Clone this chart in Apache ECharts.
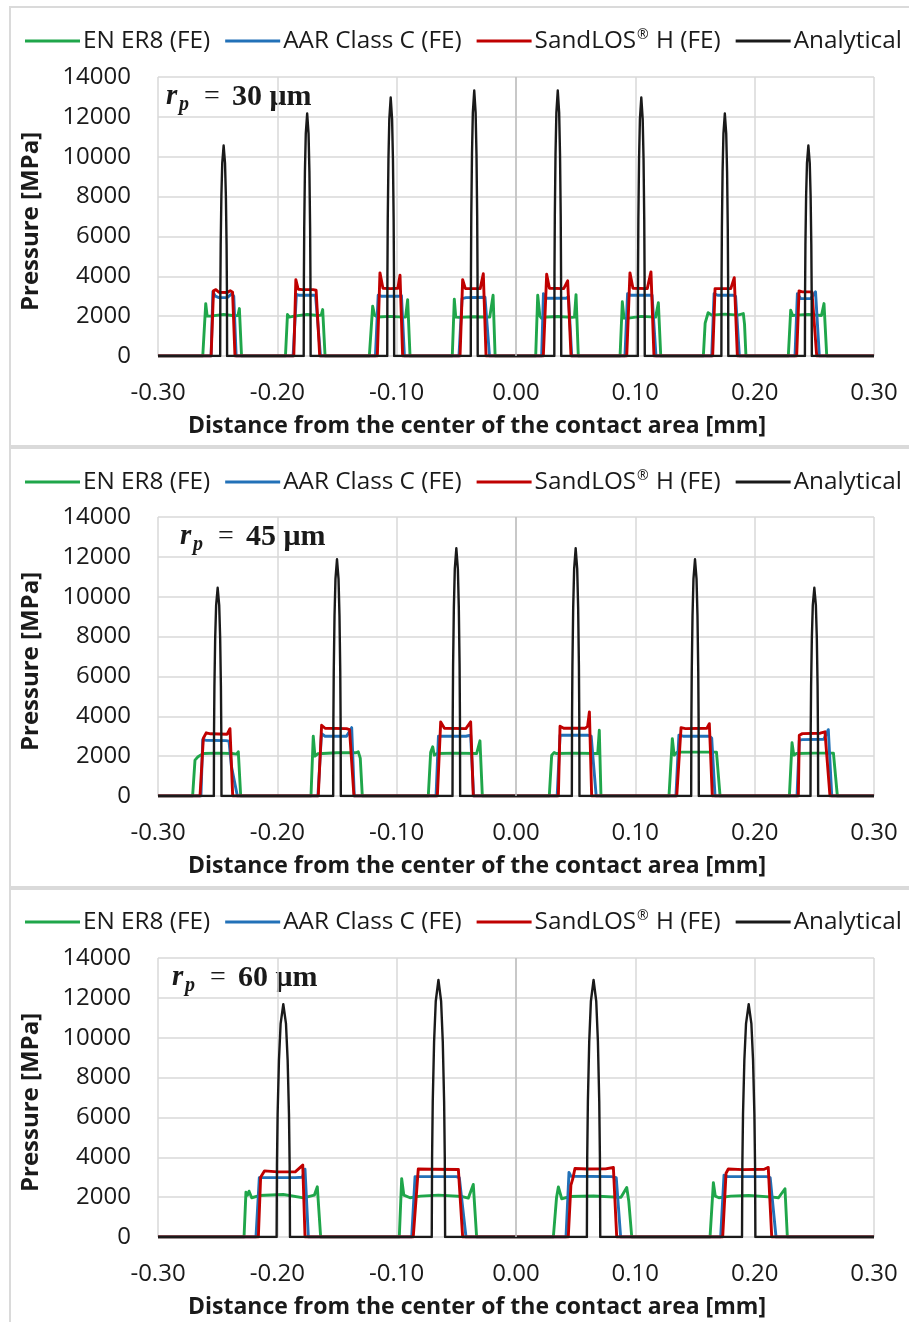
<!DOCTYPE html>
<html>
<head>
<meta charset="utf-8">
<title>Contact pressure distribution</title>
<script src="https://cdn.jsdelivr.net/npm/echarts@6/dist/echarts.min.js"></script>
<style>
  html, body { margin: 0; padding: 0; background: #ffffff; }
  #chart { width: 909px; height: 1322px; }
</style>
</head>
<body>
<div id="chart"></div>
<script>
// Series names and colours
const seriesNames = ['EN ER8 (FE)', 'AAR Class C (FE)', 'SandLOS® H (FE)', 'Analytical'];
const seriesColors = ['#1fa64a', '#2271b8', '#c00000', '#1a1a1a'];

// Axis ranges / ticks
const xRange = [-0.30, 0.30];
const xStep = 0.10;
const yRange = [0, 14000];
const yStep = 2000;
const xTitle = 'Distance from the center of the contact area [mm]';
const yTitle = 'Pressure [MPa]';
const particleRadii = ['30', '45', '60'];

// ---------- r_p = 30 µm ----------
const rp30Green = [
  [-0.30, 0],
  [-0.2625, 0], [-0.2600, 2630], [-0.2588, 2000], [-0.2560, 2000], [-0.2450, 2080], [-0.2360, 2020], [-0.2330, 2030], [-0.2318, 2380], [-0.2300, 0],
  [-0.1932, 0], [-0.1915, 2080], [-0.1900, 1950], [-0.1860, 2000], [-0.1750, 2080], [-0.1660, 2030], [-0.1632, 2050], [-0.1620, 2330], [-0.1600, 0],
  [-0.1229, 0], [-0.1201, 2500], [-0.1185, 2050], [-0.1160, 1960], [-0.1050, 1990], [-0.0950, 1950], [-0.0925, 1960], [-0.0908, 2830], [-0.0888, 0],
  [-0.0534, 0], [-0.0517, 2850], [-0.0505, 1950], [-0.0480, 1940], [-0.0350, 1970], [-0.0220, 1950], [-0.0192, 3050], [-0.0175, 0],
  [0.0165, 0], [0.0182, 3050], [0.0200, 2000], [0.0215, 1890], [0.0260, 1960], [0.0350, 1980], [0.0470, 1940], [0.0490, 1950], [0.0503, 3080], [0.0522, 0],
  [0.0872, 0], [0.0891, 2720], [0.0905, 1900], [0.0925, 1890], [0.1050, 1990], [0.1170, 1950], [0.1185, 2000], [0.1193, 2670], [0.1213, 0],
  [0.1570, 0], [0.1585, 1650], [0.1610, 2170], [0.1640, 2050], [0.1750, 2100], [0.1860, 2050], [0.1905, 2130], [0.1915, 1600], [0.1927, 0],
  [0.2282, 0], [0.2302, 2300], [0.2318, 2030], [0.2350, 2050], [0.2450, 2080], [0.2560, 2030], [0.2570, 2100], [0.2581, 2630], [0.2604, 0],
  [0.30, 0]
];
const rp30Blue = [
  [-0.30, 0],
  [-0.2555, 0], [-0.2540, 3230], [-0.2520, 3000], [-0.2490, 2930], [-0.2420, 2930], [-0.2380, 3130], [-0.2365, 3000], [-0.2345, 0],
  [-0.1868, 0], [-0.1840, 3100], [-0.1820, 3050], [-0.1680, 3050], [-0.1668, 2950], [-0.1638, 0],
  [-0.1178, 0], [-0.1155, 3050], [-0.1130, 3000], [-0.0980, 3000], [-0.0960, 3030], [-0.0935, 0],
  [-0.0478, 0], [-0.0452, 2880], [-0.0420, 2930], [-0.0260, 2950], [-0.0245, 3000], [-0.0222, 0],
  [0.0215, 0], [0.0230, 3130], [0.0250, 2900], [0.0420, 2900], [0.0440, 2980], [0.0467, 0],
  [0.0913, 0], [0.0935, 3130], [0.0960, 3050], [0.1140, 3050], [0.1173, 0],
  [0.1640, 0], [0.1660, 3130], [0.1690, 3050], [0.1820, 3050], [0.1840, 3000], [0.1872, 0],
  [0.2338, 0], [0.2358, 3130], [0.2385, 2880], [0.2470, 2880], [0.2510, 3220], [0.2542, 0],
  [0.30, 0]
];
const rp30Red = [
  [-0.30, 0],
  [-0.2555, 0], [-0.2535, 3270], [-0.2515, 3330], [-0.2490, 3200], [-0.2420, 3190], [-0.2395, 3280], [-0.2375, 3200], [-0.2355, 0],
  [-0.1862, 0], [-0.1845, 3830], [-0.1825, 3350], [-0.1790, 3330], [-0.1700, 3330], [-0.1675, 3300], [-0.1645, 0],
  [-0.1162, 0], [-0.1140, 4170], [-0.1115, 3400], [-0.1050, 3380], [-0.0990, 3400], [-0.0972, 4050], [-0.0950, 0],
  [-0.0469, 0], [-0.0447, 3830], [-0.0425, 3390], [-0.0300, 3380], [-0.0274, 4130], [-0.0251, 0],
  [0.0229, 0], [0.0257, 4100], [0.0280, 3400], [0.0400, 3380], [0.0433, 3770], [0.0461, 0],
  [0.0928, 0], [0.0955, 4170], [0.0980, 3400], [0.1100, 3380], [0.1131, 4220], [0.1156, 0],
  [0.1648, 0], [0.1668, 3380], [0.1700, 3380], [0.1800, 3380], [0.1829, 3930], [0.1855, 0],
  [0.2352, 0], [0.2372, 3270], [0.2400, 3220], [0.2480, 3220], [0.2495, 3300], [0.2520, 0],
  [0.30, 0]
];
const rp30Analytical = [
  [-0.30, 0],
  [-0.2479, 0], [-0.247755, 3295], [-0.247465, 5565], [-0.246885, 8026], [-0.24616, 9684], [-0.245, 10560], [-0.24384, 9684], [-0.243115, 8026], [-0.242535, 5565], [-0.242245, 3295], [-0.2421, 0],
  [-0.1779, 0], [-0.177755, 3797], [-0.177465, 6414], [-0.176885, 9249], [-0.17616, 11160], [-0.175, 12170], [-0.17384, 11160], [-0.173115, 9249], [-0.172535, 6414], [-0.172245, 3797], [-0.1721, 0],
  [-0.1079, 0], [-0.107755, 4047], [-0.107465, 6835], [-0.106885, 9857], [-0.10616, 11893], [-0.105, 12970], [-0.10384, 11893], [-0.103115, 9857], [-0.102535, 6835], [-0.102245, 4047], [-0.1021, 0],
  [-0.0379, 0], [-0.037755, 4156], [-0.037465, 7020], [-0.036885, 10123], [-0.03616, 12214], [-0.035, 13320], [-0.03384, 12214], [-0.033115, 10123], [-0.032535, 7020], [-0.032245, 4156], [-0.0321, 0],
  [0.0321, 0], [0.032245, 4156], [0.032535, 7020], [0.033115, 10123], [0.03384, 12214], [0.035, 13320], [0.03616, 12214], [0.036885, 10123], [0.037465, 7020], [0.037755, 4156], [0.0379, 0],
  [0.1021, 0], [0.102245, 4047], [0.102535, 6835], [0.103115, 9857], [0.10384, 11893], [0.105, 12970], [0.10616, 11893], [0.106885, 9857], [0.107465, 6835], [0.107755, 4047], [0.1079, 0],
  [0.1721, 0], [0.172245, 3797], [0.172535, 6414], [0.173115, 9249], [0.17384, 11160], [0.175, 12170], [0.17616, 11160], [0.176885, 9249], [0.177465, 6414], [0.177755, 3797], [0.1779, 0],
  [0.2421, 0], [0.242245, 3295], [0.242535, 5565], [0.243115, 8026], [0.24384, 9684], [0.245, 10560], [0.24616, 9684], [0.246885, 8026], [0.247465, 5565], [0.247755, 3295], [0.2479, 0],
  [0.30, 0]
];

// ---------- r_p = 45 µm ----------
const rp45Green = [
  [-0.30, 0],
  [-0.2710, 0], [-0.2690, 1800], [-0.2665, 1970], [-0.2620, 2130], [-0.2500, 2150], [-0.2380, 2130], [-0.2340, 2100], [-0.2327, 2220], [-0.2307, 0],
  [-0.1718, 0], [-0.1699, 3000], [-0.1685, 2000], [-0.1660, 2120], [-0.1500, 2170], [-0.1340, 2170], [-0.1322, 2220], [-0.1305, 1900], [-0.1288, 0],
  [-0.0735, 0], [-0.0715, 2200], [-0.0698, 2470], [-0.0685, 2050], [-0.0660, 2130], [-0.0500, 2150], [-0.0330, 2130], [-0.0302, 2770], [-0.0282, 0],
  [0.0279, 0], [0.0299, 2050], [0.0320, 2180], [0.0340, 2130], [0.0500, 2150], [0.0660, 2130], [0.0685, 2130], [0.0698, 3300], [0.0712, 0],
  [0.1282, 0], [0.1310, 2880], [0.1325, 2050], [0.1350, 2200], [0.1500, 2200], [0.1680, 2200], [0.1695, 2150], [0.1710, 0],
  [0.2291, 0], [0.2313, 2670], [0.2328, 2050], [0.2350, 2130], [0.2500, 2150], [0.2660, 2150], [0.2673, 2220], [0.2693, 0],
  [0.30, 0]
];
const rp45Blue = [
  [-0.30, 0],
  [-0.2640, 0], [-0.2625, 2830], [-0.2600, 2800], [-0.2430, 2780], [-0.2405, 2750], [-0.2385, 1500], [-0.2335, 0],
  [-0.1660, 0], [-0.1630, 3130], [-0.1600, 3000], [-0.1420, 3000], [-0.1377, 3430], [-0.1355, 0],
  [-0.0670, 0], [-0.0650, 3000], [-0.0420, 3000], [-0.0380, 3050], [-0.0355, 0],
  [0.0345, 0], [0.0369, 3050], [0.0600, 3050], [0.0630, 3000], [0.0672, 0],
  [0.1340, 0], [0.1365, 3050], [0.1400, 3000], [0.1620, 3000], [0.1640, 2900], [0.1668, 0],
  [0.2355, 0], [0.2374, 2800], [0.2400, 2830], [0.2580, 2850], [0.2617, 3330], [0.2646, 0],
  [0.30, 0]
];
const rp45Red = [
  [-0.30, 0],
  [-0.2648, 0], [-0.2620, 2900], [-0.2596, 3170], [-0.2560, 3120], [-0.2420, 3100], [-0.2397, 3380], [-0.2374, 0],
  [-0.1657, 0], [-0.1629, 3550], [-0.1600, 3400], [-0.1420, 3380], [-0.1395, 3330], [-0.1358, 0],
  [-0.0659, 0], [-0.0631, 3720], [-0.0600, 3400], [-0.0420, 3380], [-0.0380, 3720], [-0.0358, 0],
  [0.0355, 0], [0.0369, 3500], [0.0400, 3400], [0.0580, 3400], [0.0600, 3500], [0.0615, 4220], [0.0634, 0],
  [0.1347, 0], [0.1383, 3430], [0.1420, 3380], [0.1600, 3400], [0.1620, 3630], [0.1645, 0],
  [0.2366, 0], [0.2374, 3050], [0.2400, 3130], [0.2550, 3150], [0.2589, 3220], [0.2631, 0],
  [0.30, 0]
];
const rp45Analytical = [
  [-0.30, 0],
  [-0.2532, 0], [-0.25304, 3260], [-0.25272, 5507], [-0.25208, 7942], [-0.25128, 9583], [-0.25, 10450], [-0.24872, 9583], [-0.24792, 7942], [-0.24728, 5507], [-0.24696, 3260], [-0.2468, 0],
  [-0.1532, 0], [-0.15304, 3707], [-0.15272, 6261], [-0.15208, 9029], [-0.15128, 10894], [-0.15, 11880], [-0.14872, 10894], [-0.14792, 9029], [-0.14728, 6261], [-0.14696, 3707], [-0.1468, 0],
  [-0.0532, 0], [-0.05304, 3878], [-0.05272, 6551], [-0.05208, 9447], [-0.05128, 11398], [-0.05, 12430], [-0.04872, 11398], [-0.04792, 9447], [-0.04728, 6551], [-0.04696, 3878], [-0.0468, 0],
  [0.0468, 0], [0.04696, 3878], [0.04728, 6551], [0.04792, 9447], [0.04872, 11398], [0.05, 12430], [0.05128, 11398], [0.05208, 9447], [0.05272, 6551], [0.05304, 3878], [0.0532, 0],
  [0.1468, 0], [0.14696, 3707], [0.14728, 6261], [0.14792, 9029], [0.14872, 10894], [0.15, 11880], [0.15128, 10894], [0.15208, 9029], [0.15272, 6261], [0.15304, 3707], [0.1532, 0],
  [0.2468, 0], [0.24696, 3260], [0.24728, 5507], [0.24792, 7942], [0.24872, 9583], [0.25, 10450], [0.25128, 9583], [0.25208, 7942], [0.25272, 5507], [0.25304, 3260], [0.2532, 0],
  [0.30, 0]
];

// ---------- r_p = 60 µm ----------
const rp60Green = [
  [-0.30, 0],
  [-0.2279, 0], [-0.2263, 2250], [-0.2250, 2100], [-0.2237, 2300], [-0.2215, 1970], [-0.2150, 2080], [-0.1950, 2130], [-0.1780, 1960], [-0.1690, 2100], [-0.1665, 2520], [-0.1637, 0],
  [-0.0978, 0], [-0.0958, 2930], [-0.0940, 2100], [-0.0888, 1970], [-0.0800, 2050], [-0.0650, 2100], [-0.0450, 2030], [-0.0400, 1950], [-0.0358, 2640], [-0.0330, 0],
  [0.0313, 0], [0.0340, 2000], [0.0355, 2510], [0.0383, 1920], [0.0450, 2030], [0.0650, 2060], [0.0880, 1990], [0.0928, 2480], [0.0945, 1800], [0.0970, 0],
  [0.1626, 0], [0.1654, 2730], [0.1670, 2050], [0.1700, 1970], [0.1800, 2050], [0.1950, 2080], [0.2150, 2000], [0.2200, 1970], [0.2254, 2420], [0.2274, 0],
  [0.30, 0]
];
const rp60Blue = [
  [-0.30, 0],
  [-0.2179, 0], [-0.2151, 2980], [-0.2100, 2980], [-0.1850, 2980], [-0.1790, 3000], [-0.1768, 3400], [-0.1740, 0],
  [-0.0874, 0], [-0.0846, 3030], [-0.0830, 3050], [-0.0500, 3030], [-0.0475, 2980], [-0.0419, 0],
  [0.0419, 0], [0.0444, 3240], [0.0460, 3050], [0.0800, 3030], [0.0840, 2980], [0.0877, 0],
  [0.1715, 0], [0.1743, 3100], [0.1770, 3030], [0.2100, 3030], [0.2130, 2980], [0.2179, 0],
  [0.30, 0]
];
const rp60Red = [
  [-0.30, 0],
  [-0.2159, 0], [-0.2140, 3000], [-0.2107, 3320], [-0.2000, 3270], [-0.1850, 3270], [-0.1787, 3610], [-0.1768, 0],
  [-0.0861, 0], [-0.0819, 3410], [-0.0700, 3400], [-0.0483, 3390], [-0.0447, 0],
  [0.0438, 0], [0.0460, 2600], [0.0475, 2900], [0.0494, 3440], [0.0600, 3410], [0.0750, 3420], [0.0816, 3490], [0.0844, 0],
  [0.1732, 0], [0.1760, 3200], [0.1779, 3410], [0.1900, 3380], [0.2080, 3400], [0.2114, 3490], [0.2143, 0],
  [0.30, 0]
];
const rp60Analytical = [
  [-0.30, 0],
  [-0.2006, 0], [-0.20032, 3644], [-0.19976, 6155], [-0.19864, 8877], [-0.19724, 10711], [-0.195, 11680], [-0.19276, 10711], [-0.19136, 8877], [-0.19024, 6155], [-0.18968, 3644], [-0.1894, 0],
  [-0.0706, 0], [-0.07032, 4025], [-0.06976, 6798], [-0.06864, 9804], [-0.06724, 11829], [-0.065, 12900], [-0.06276, 11829], [-0.06136, 9804], [-0.06024, 6798], [-0.05968, 4025], [-0.0594, 0],
  [0.0594, 0], [0.05968, 4025], [0.06024, 6798], [0.06136, 9804], [0.06276, 11829], [0.065, 12900], [0.06724, 11829], [0.06864, 9804], [0.06976, 6798], [0.07032, 4025], [0.0706, 0],
  [0.1894, 0], [0.18968, 3644], [0.19024, 6155], [0.19136, 8877], [0.19276, 10711], [0.195, 11680], [0.19724, 10711], [0.19864, 8877], [0.19976, 6155], [0.20032, 3644], [0.2006, 0],
  [0.30, 0]
];

const panelData = [
  [rp30Green, rp30Blue, rp30Red, rp30Analytical],
  [rp45Green, rp45Blue, rp45Red, rp45Analytical],
  [rp60Green, rp60Blue, rp60Red, rp60Analytical]
];

// ---------- layout ----------
const FONT = '"Open Sans", "Noto Sans", sans-serif';
const SERIF = '"Liberation Serif", "DejaVu Serif", serif';
const plotLeft = 158, plotWidth = 716, plotHeight = 279;
const plotTops = [77, 517, 958];
const legendTops = [28, 469, 909];
const frameTops = [7, 448, 889];
const radiusLabelX = [166, 180, 172];

// legend label: registered mark drawn as a superscript
const legendLabel = name => name.indexOf('®') >= 0
  ? name.split('®').map(part => '{t|' + part + '}').join('{s|®}')
  : '{t|' + name + '}';

const grids = [], xAxes = [], yAxes = [], legends = [], series = [], graphics = [];

plotTops.forEach((top, i) => {
  grids.push({ left: plotLeft, top: top, width: plotWidth, height: plotHeight, containLabel: false });

  xAxes.push({
    type: 'value', gridIndex: i, min: xRange[0], max: xRange[1], interval: xStep,
    axisLine: { show: false }, axisTick: { show: false },
    axisLabel: {
      margin: 25, color: '#1a1a1a', fontFamily: FONT, fontSize: 24,
      formatter: v => (Math.abs(v) < 1e-9 ? 0 : v).toFixed(2)
    },
    splitLine: { show: true, lineStyle: { color: '#d9d9d9', width: 1.5 } }
  });

  yAxes.push({
    type: 'value', gridIndex: i, min: yRange[0], max: yRange[1], interval: yStep,
    axisLine: { show: false }, axisTick: { show: false },
    axisLabel: { margin: 27, color: '#1a1a1a', fontFamily: FONT, fontSize: 24, formatter: v => String(v) },
    splitLine: { show: true, lineStyle: { color: '#d9d9d9', width: 1.5 } }
  });

  legends.push({
    data: seriesNames, top: legendTops[i], left: 25, width: 900, padding: 0,
    orient: 'horizontal',
    itemWidth: 55, itemHeight: 3, itemGap: 15, icon: 'rect',
    selectedMode: false,
    formatter: legendLabel,
    textStyle: {
      fontFamily: FONT, fontSize: 24.3, color: '#1a1a1a', lineHeight: 26, padding: [0, 0, 0, -2],
      rich: {
        t: { fontFamily: FONT, fontSize: 24.3, color: '#1a1a1a', lineHeight: 26 },
        s: { fontFamily: FONT, fontSize: 14, color: '#1a1a1a', lineHeight: 26, verticalAlign: 'top', padding: [0, 1, 0, 1] }
      }
    }
  });

  panelData[i].forEach((pts, k) => {
    const s = {
      name: seriesNames[k], type: 'line', xAxisIndex: i, yAxisIndex: i,
      data: pts, showSymbol: false, symbol: 'none', animation: false,
      color: seriesColors[k],
      lineStyle: { color: seriesColors[k], width: k === 3 ? 2.4 : 2.9, join: 'round' },
      emphasis: { disabled: true }
    };
    if (k === 0) {
      // vertical axis line sitting on x = 0
      s.markLine = {
        silent: true, symbol: 'none', animation: false, label: { show: false },
        lineStyle: { color: '#bfbfbf', width: 1.5, type: 'solid' },
        data: [{ xAxis: 0 }]
      };
    }
    series.push(s);
  });

  // chart frame
  graphics.push({
    type: 'rect', z: -10, silent: true,
    shape: { x: 10, y: frameTops[i], width: 930, height: i === 2 ? 480 : 439 },
    style: { fill: 'none', stroke: '#dadada', lineWidth: 2 }
  });

  // axis titles
  graphics.push({
    type: 'text', silent: true, x: 477, y: top + plotHeight + 70,
    style: {
      text: xTitle, font: 'bold 23px ' + FONT, fill: '#1a1a1a',
      align: 'center', verticalAlign: 'middle', textAlign: 'center', textVerticalAlign: 'middle'
    }
  });
  graphics.push({
    type: 'text', silent: true, x: 31, y: top + plotHeight / 2 + 5, rotation: Math.PI / 2,
    style: {
      text: yTitle, font: 'bold 24px ' + FONT, fill: '#1a1a1a',
      align: 'center', verticalAlign: 'middle', textAlign: 'center', textVerticalAlign: 'middle'
    }
  });

  // particle radius annotation: r, subscript p, then "= value µm"
  const ax = radiusLabelX[i], ay = top + 20;
  graphics.push({
    type: 'text', silent: true, x: ax, y: ay,
    style: { text: 'r', font: 'italic bold 29px ' + SERIF, fill: '#1a1a1a',
      align: 'left', verticalAlign: 'middle', textAlign: 'left', textVerticalAlign: 'middle' }
  });
  graphics.push({
    type: 'text', silent: true, x: ax + 13, y: ay + 8,
    style: { text: 'p', font: 'italic bold 20px ' + SERIF, fill: '#1a1a1a',
      align: 'left', verticalAlign: 'middle', textAlign: 'left', textVerticalAlign: 'middle' }
  });
  graphics.push({
    type: 'text', silent: true, x: ax + 38, y: ay,
    style: { text: '=', font: '28px ' + SERIF, fill: '#1a1a1a',
      align: 'left', verticalAlign: 'middle', textAlign: 'left', textVerticalAlign: 'middle' }
  });
  graphics.push({
    type: 'text', silent: true, x: ax + 66, y: ay,
    style: { text: particleRadii[i] + ' μm', font: 'bold 30px ' + SERIF, fill: '#1a1a1a',
      align: 'left', verticalAlign: 'middle', textAlign: 'left', textVerticalAlign: 'middle' }
  });
});

const chart = echarts.init(document.getElementById('chart'), null, { renderer: 'canvas' });
chart.setOption({
  backgroundColor: '#ffffff',
  animation: false,
  grid: grids,
  xAxis: xAxes,
  yAxis: yAxes,
  legend: legends,
  series: series,
  graphic: { elements: graphics }
});
</script>
</body>
</html>
